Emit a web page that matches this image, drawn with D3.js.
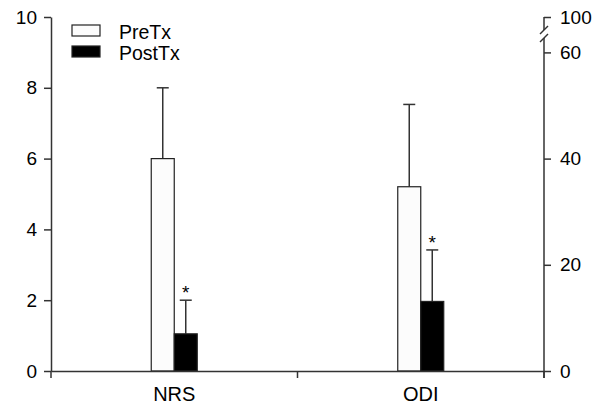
<!DOCTYPE html>
<html>
<head>
<meta charset="utf-8">
<script src="https://cdn.jsdelivr.net/npm/d3@7"></script>
<style>
  html, body { margin: 0; padding: 0; background: #fff; }
  svg { display: block; }
  text { font-family: Arial, 'Liberation Sans', sans-serif; fill: #000; }
</style>
</head>
<body>
<div id="chart"></div>
<script>
// NRS op linker as (0-10), ODI op rechter as (0-100, breuk boven 60)
const categories = ['NRS', 'ODI'];
const series = ['PreTx', 'PostTx'];
const preMean = [6.0, 34.7];
const preErr = [2.0, 15.5];
const postMean = [1.05, 13.1];
const postErr = [0.95, 9.7];
const significant = [true, true]; // asterisk boven PostTx
const leftTicks = [0, 2, 4, 6, 8, 10];
const rightTicks = [0, 20, 40, 60, 100];

const W = 606, H = 405;
const padL = 51, padR = 62, padT = 17, padB = 34;
const AXIS = '#333';

const svg = d3.select('#chart').append('svg')
  .attr('width', W).attr('height', H);

const x0 = d3.scaleBand().domain(categories).range([padL, W - padR]);
const x1 = d3.scaleBand().domain(series).range([-23, 23]);
const yL = d3.scaleLinear().domain([0, 10]).range([H - padB, padT]);
// rechter as: 0-60 lineair tot hoogte van 9 op links, dan breuk naar 100
const yR = d3.scaleLinear().domain([0, 60, 100]).range([yL(0), yL(9), yL(10)]);
const yFor = cat => (cat === 'NRS' ? yL : yR);

// bars + error bars
const rows = [];
categories.forEach((c, i) => {
  rows.push({ cat: c, s: 'PreTx', v: preMean[i], e: preErr[i], star: false });
  rows.push({ cat: c, s: 'PostTx', v: postMean[i], e: postErr[i], star: significant[i] });
});

const bars = svg.append('g');
rows.forEach(d => {
  const y = yFor(d.cat);
  const bx = x0(d.cat) + x0.bandwidth() / 2 + x1(d.s);
  const bw = x1.bandwidth();
  const cx = bx + bw / 2;
  const top = y(d.v + d.e);
  bars.append('line')
    .attr('x1', cx).attr('x2', cx)
    .attr('y1', y(d.v)).attr('y2', top)
    .attr('stroke', AXIS).attr('stroke-width', 1.5);
  bars.append('line')
    .attr('x1', cx - 6).attr('x2', cx + 6)
    .attr('y1', top).attr('y2', top)
    .attr('stroke', AXIS).attr('stroke-width', 1.5);
  bars.append('rect')
    .attr('x', bx).attr('y', y(d.v))
    .attr('width', bw).attr('height', y(0) - y(d.v))
    .attr('fill', d.s === 'PreTx' ? '#fcfcfc' : '#000')
    .attr('stroke', '#222').attr('stroke-width', 1.2);
  if (d.star) {
    bars.append('text')
      .attr('x', cx).attr('y', top - 1)
      .attr('text-anchor', 'middle')
      .attr('font-size', 19)
      .text('*');
  }
});

// left axis
const gL = svg.append('g')
  .attr('transform', `translate(${padL},0)`)
  .call(d3.axisLeft(yL).tickValues(leftTicks).tickSize(7).tickSizeOuter(0).tickPadding(7));
gL.selectAll('text').attr('font-size', 19).attr('font-family', null);
gL.selectAll('line, path').attr('stroke', AXIS).attr('stroke-width', 1.5);

// right axis (domein handmatig met breuk)
const gR = svg.append('g')
  .attr('transform', `translate(${W - padR},0)`)
  .call(d3.axisRight(yR).tickValues(rightTicks).tickSize(7).tickPadding(9));
gR.select('.domain').remove();
gR.selectAll('text').attr('font-size', 19).attr('font-family', null);
gR.selectAll('line').attr('stroke', AXIS).attr('stroke-width', 1.5);
const rx = W - padR;
const brk = svg.append('g').attr('stroke', AXIS).attr('stroke-width', 1.5).attr('fill', 'none');
brk.append('path').attr('d', `M${rx},${yR(100)}V${yR(100) + 13}`);
brk.append('path').attr('d', `M${rx - 4},${yR(100) + 17}L${rx + 4},${yR(100) + 9}`);
brk.append('path').attr('d', `M${rx - 4},${yR(100) + 25}L${rx + 4},${yR(100) + 17}`);
brk.append('path').attr('d', `M${rx},${yR(100) + 21}V${yR(0) + 7}`);

// bottom axis: labels op bandmidden, ticks op bandgrenzen
const gB = svg.append('g')
  .attr('transform', `translate(0,${yL(0)})`)
  .call(d3.axisBottom(x0).tickSize(0).tickPadding(16));
gB.selectAll('text').attr('font-size', 20).attr('font-family', null);
gB.select('.domain').attr('stroke', AXIS).attr('stroke-width', 1.5);
const edges = categories.map(c => x0(c)).concat([x0.range()[1]]);
edges.forEach(ex => {
  gB.append('line')
    .attr('x1', ex).attr('x2', ex).attr('y1', 0).attr('y2', 7)
    .attr('stroke', AXIS).attr('stroke-width', 1.5);
});

// legend
const leg = svg.append('g').attr('transform', 'translate(72,24)');
series.forEach((s, i) => {
  const row = leg.append('g').attr('transform', `translate(0,${i * 21})`);
  row.append('rect')
    .attr('x', 0).attr('y', 1).attr('width', 28).attr('height', 11)
    .attr('fill', i === 0 ? '#fcfcfc' : '#000')
    .attr('stroke', '#222').attr('stroke-width', 1.2);
  row.append('text')
    .attr('x', 47).attr('y', 14.5)
    .attr('font-size', 19.5)
    .text(s);
});
</script>
</body>
</html>
